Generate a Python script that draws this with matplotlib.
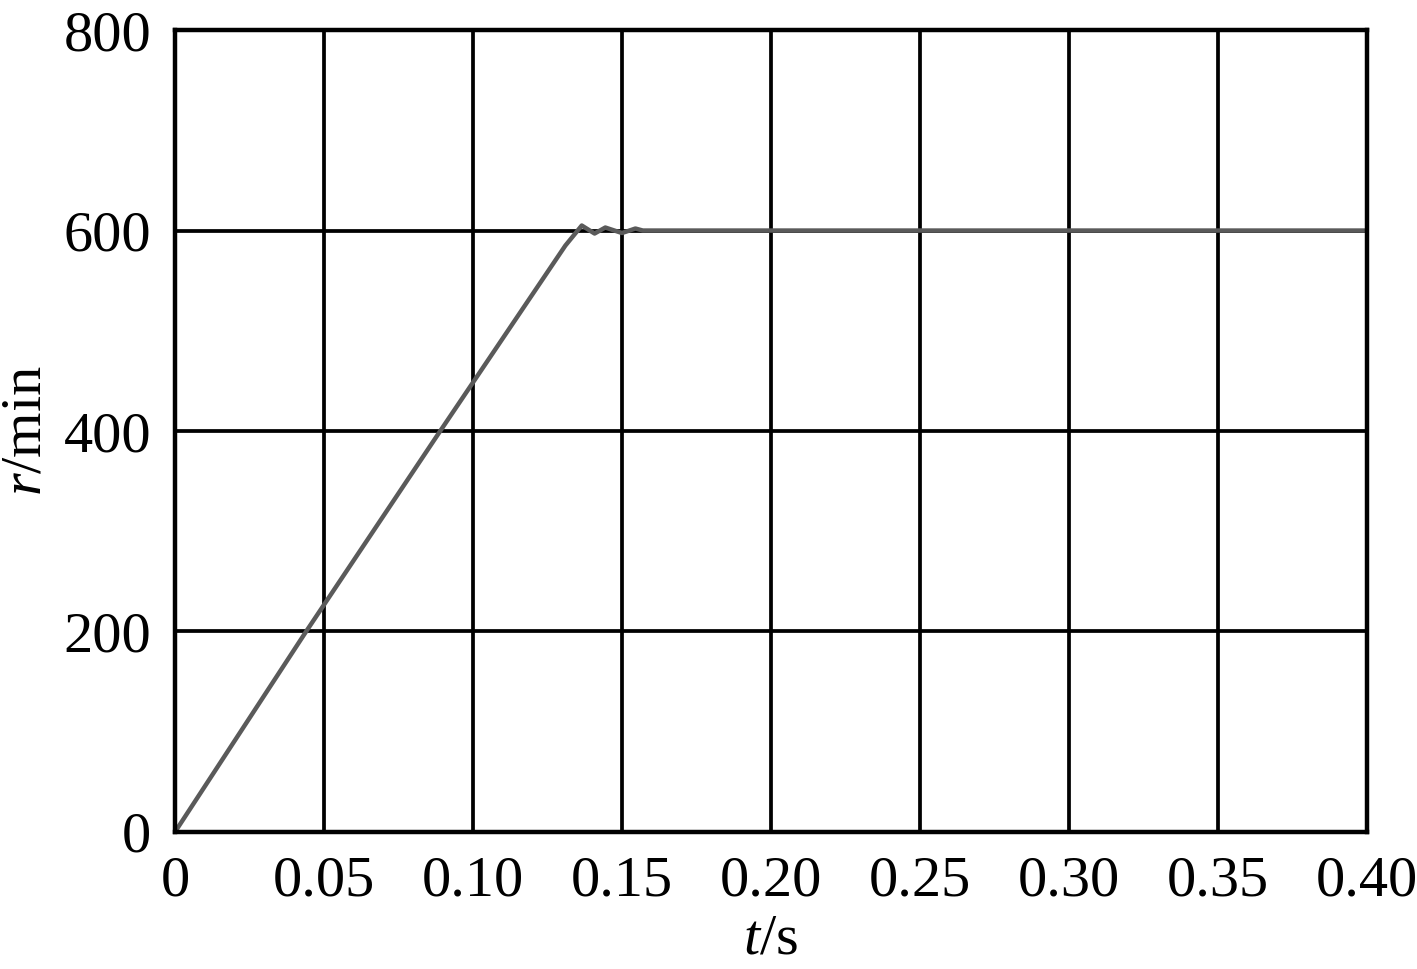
import numpy as np
import matplotlib
matplotlib.use("Agg")
import matplotlib.pyplot as plt

plt.rcParams['font.family'] = ['Liberation Serif', 'DejaVu Serif']
plt.rcParams['mathtext.fontset'] = 'custom'
plt.rcParams['mathtext.rm'] = 'Liberation Serif'
plt.rcParams['mathtext.it'] = 'Liberation Serif:italic'

# speed response
t = [0, 0.044, 0.089, 0.131, 0.1365, 0.1408, 0.1444, 0.150, 0.1545, 0.157, 0.40]
speed = [0, 200, 400, 585, 605, 597, 603, 597.5, 602, 600, 600]

xticks = [0, 0.05, 0.10, 0.15, 0.20, 0.25, 0.30, 0.35, 0.40]
xlabels = ["0", "0.05", "0.10", "0.15", "0.20", "0.25", "0.30", "0.35", "0.40"]
yticks = [0, 200, 400, 600, 800]

fig = plt.figure(figsize=(14.17, 9.69), dpi=100)
ax = fig.add_axes([0.1235, 0.1414, 0.8412, 0.8276])

ax.plot(t, speed, color="#5a5a5a", lw=3.2, zorder=3)

ax.set_xlim(0, 0.40)
ax.set_ylim(0, 800)
ax.set_xticks(xticks)
ax.set_xticklabels(xlabels)
ax.set_yticks(yticks)
ax.grid(True, color="black", lw=2.7)
ax.tick_params(length=0, labelsize=42, pad=17)
for s in ax.spines.values():
    s.set_linewidth(3.2)
    s.set_zorder(4)

ax.set_xlabel(r"$\it{t}$/s", fontsize=42, labelpad=4)
ax.set_ylabel(r"$\it{r}$/min", fontsize=42, labelpad=8)

fig.savefig("out.png", dpi=100)
